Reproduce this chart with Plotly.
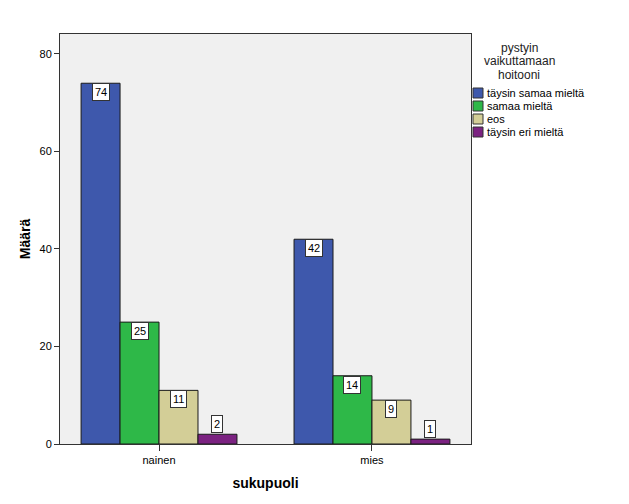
import plotly.graph_objects as go

categories = ["nainen", "mies"]
series_names = ["täysin samaa mieltä", "samaa mieltä", "eos", "täysin eri mieltä"]
values = {
    "täysin samaa mieltä": [74, 42],
    "samaa mieltä": [25, 14],
    "eos": [11, 9],
    "täysin eri mieltä": [2, 1],
}
colors = ["#3e58ac", "#2eb848", "#d3ce97", "#7b2281"]
y_ticks = [0, 20, 40, 60, 80]
legend_title_lines = ["pystyin", "vaikuttamaan", "hoitooni"]

W, H = 629, 504
L, R, T, B = 60, 158, 34, 60
PW, PH = W - L - R, H - T - B


def px(x):
    return (x - L) / PW


def py(y):
    return (H - B - y) / PH


fig = go.Figure()
xpos = list(range(len(categories)))
for name, col in zip(series_names, colors):
    fig.add_trace(go.Bar(
        x=xpos, y=values[name], name=name, showlegend=False,
        marker=dict(color=col, line=dict(color="#1a1a1a", width=1)),
    ))

n = len(series_names)
group_w = 0.732
bw = group_w / n
for i, name in enumerate(series_names):
    for j, v in enumerate(values[name]):
        xc = j - group_w / 2 + bw * (i + 0.5)
        inside = v >= 5
        fig.add_annotation(
            x=xc, y=v, text=str(v), showarrow=False,
            yanchor="top" if inside else "bottom",
            yshift=0 if inside else 1,
            bgcolor="white", bordercolor="#333333", borderwidth=1, borderpad=2,
            font=dict(family="Arial, Liberation Sans", size=11, color="black"),
        )

# manual legend
for k, line in enumerate(legend_title_lines):
    fig.add_annotation(
        xref="paper", yref="paper", x=px(519), y=py(48 + 13.5 * k),
        xanchor="center", yanchor="middle",
        text=line, showarrow=False,
        font=dict(family="Arial, Liberation Sans", size=12, color="#222222"),
    )
for i, (name, col) in enumerate(zip(series_names, colors)):
    yc = 93 + 13 * i
    fig.add_shape(
        type="rect", xref="paper", yref="paper",
        x0=px(473), x1=px(483), y0=py(yc + 5), y1=py(yc - 5),
        fillcolor=col, line=dict(color="#333333", width=1),
    )
    fig.add_annotation(
        xref="paper", yref="paper", x=px(485), y=py(yc), xanchor="left", yanchor="middle",
        text=name, showarrow=False,
        font=dict(family="Arial, Liberation Sans", size=11, color="black"),
    )

fig.update_layout(
    width=W, height=H,
    margin=dict(l=L, r=R, t=T, b=B),
    paper_bgcolor="white", plot_bgcolor="#f0f0f0",
    barmode="group", bargap=1 - group_w, bargroupgap=0,
    font=dict(family="Arial, Liberation Sans", size=11, color="black"),
    showlegend=False,
    xaxis=dict(
        range=[-0.465, 1.465], tickvals=xpos, ticktext=categories,
        ticks="outside", ticklen=6, tickcolor="#333333",
        showline=True, linecolor="#333333", linewidth=1, mirror=True,
        showgrid=False, zeroline=False,
        title=dict(text="<b>sukupuoli</b>", font=dict(size=14), standoff=12),
    ),
    yaxis=dict(
        range=[0, 84.1], tickvals=y_ticks,
        ticks="outside", ticklen=5, tickcolor="#333333",
        showline=True, linecolor="#333333", linewidth=1, mirror=True,
        showgrid=False, zeroline=False,
        title=dict(text="<b>Määrä</b>", font=dict(size=14), standoff=5),
    ),
)

fig.write_html("out.html")
